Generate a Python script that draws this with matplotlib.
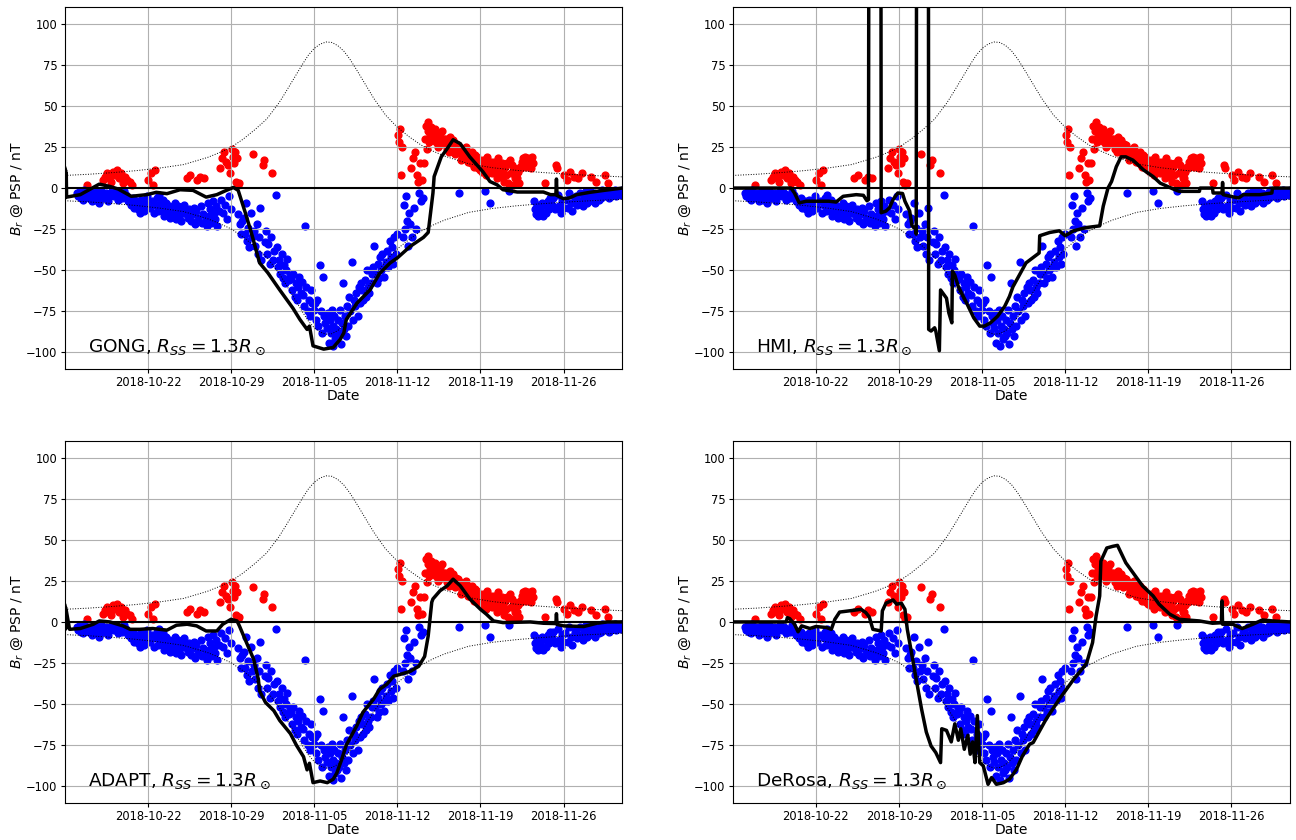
import datetime
import matplotlib
matplotlib.use('Agg')
import matplotlib.pyplot as plt
import matplotlib.dates as mdates
import numpy as np

# time axis: days since 2018-10-15 00:00
t_start = datetime.datetime(2018, 10, 15)
t_first = 0.02
t_span = 46.93

# PSP measured Br (nT), one list per day starting at day 1
psp_first_day = 1
psp_br_by_day = [
    [-3, -5, -2, -6, -4, -7, -1, -5, 2, -4],
    [-6, -3, -8, -4, -2, -7, -5, -3, -9, -6],
    [-2, -4, 5, -6, 7, -3, 9, -8, 6, -5, 4, -2],
    [10, -5, 8, -3, 11, -7, 6, -4, 9, -6, 3, -2],
    [7, -4, 5, -8, 4, -10, 2, -6, -12, -9],
    [-8, -13, -10, -15, -7, -12, -14, -9, -11, -5],
    [5, -12, 9, -8, 2, -15, 11, -10, -6, -14, -4],
    [-10, -14, -7, -17, -12, -9, -15, -11, -18, -13],
    [-12, -16, -9, -19, -14, -11, -17, -20, -13, -15],
    [-10, -15, 6, -18, -13, 8, -20, -16, -12, -22],
    [-14, 5, -18, 7, -11, -21, -16, 6, -19, -23],
    [-9, -17, -13, -21, -8, -15, -19, -11, -23, -14],
    [12, -7, 18, -15, 22, -10, 16, -19, 14, -5, 9, -13],
    [24, 19, 15, 22, 4, 18, 2, -16, 3, -22, -28, -20],
    [-18, -28, -9, -32, -24, -36, -15, -30, 21, -26],
    [-35, -22, -40, -30, -12, -44, 14, 17, -33, -26],
    [-40, -34, -46, -30, 9, -44, -38, -4, -36, -48],
    [-44, -52, -40, -55, -47, -58, -50, -43, -56, -53],
    [-55, -62, -52, -66, -58, -68, -60, -54, -64, -57],
    [-65, -72, -23, -60, -75, -68, -78, -62, -70, -74],
    [-70, -80, -68, -84, -47, -75, -88, -54, -78, -82],
    [-85, -76, -94, -80, -88, -74, -96, -84, -78, -92, -86, -90],
    [-80, -88, -74, -95, -82, -58, -86, -78, -90, -72, -84, -66],
    [-75, -45, -80, -68, -72, -64, -78, -60, -70, -58],
    [-62, -68, -56, -66, -50, -60, -64, -58, -52, -48],
    [-35, -52, -58, -46, -55, -42, -50, -40, -54, -48],
    [-45, -38, -48, -32, -42, -36, -46, -30, -40, -28],
    [32, 28, 36, 8, 25, -30, -10, -25, -5, -20, -35, -15],
    [-22, 12, -30, 18, -12, 22, -25, 8, 4, -3, 15, -8],
    [5, -6, 15, 30, 38, 24, 35, 40, 28, 32, 37, 36],
    [34, 30, 36, 28, 32, 25, 31, 33, 27, 35, 29, 30],
    [27, 30, 24, 28, 22, 31, 26, 23, 29, 25, 21, 27],
    [22, 26, -3, 24, 17, 19, 21, 23, 18, 25, 20, 16],
    [18, 21, 15, 22, 17, 13, 20, 16, 19, 12, 14, 11],
    [14, 10, 17, 12, -2, 8, 19, 15, 11, -9, 16, 9],
    [12, 16, 9, 14, 6, 18, 11, 13, 7, 15, 10, 4],
    [13, 8, 15, 3, -2, 17, 9, 14, 2, 12, 6, 10],
    [6, 10, 3, 13, 12, 16, 14, 18, 15, 19, 13, 17],
    [18, 14, 16, 12, 19, 15, -8, -13, -16, -10, -17, -12],
    [-14, -9, -17, -11, 3, -15, -8, -13, -6, -10],
    [-10, -6, -13, 14, 12, -4, -11, -15, -8, -12],
    [8, -7, 5, -12, -3, 10, -9, -14, 7, -6],
    [-5, -10, 6, -3, -8, 9, -11, -6, -2, -9],
    [-4, -8, -2, 7, -6, -3, -9, 4, -5, -7],
    [-3, -6, -1, -5, 8, -2, -4, 3, -6, -3],
    [-2, -4, -1, -5, -3, -2, -4, -1],
]

# |B| envelope (dotted), day vs nT
env_day = [0, 2, 4, 6, 8, 10, 12, 13, 14, 15, 16, 17, 18, 18.5, 19, 19.5, 20, 20.5,
           21, 21.5, 22, 22.5, 23, 23.5, 24, 24.5, 25, 25.5, 26, 27, 28, 29, 30, 31,
           32, 34, 36, 38, 40, 42, 44, 47]
env_br = [7.7, 8.4, 9.4, 10.6, 12.2, 14.3, 18.6, 21.5, 24.8, 29.7, 35.5, 42, 51.5, 57.2,
          63.2, 69.2, 75.2, 80.8, 85, 87.6, 88.9, 88.6, 86.6, 83.3, 78.5, 72.8, 66.8,
          60.8, 54.8, 44.5, 37, 31.2, 26.2, 22.5, 19.4, 14.8, 12.4, 10.8, 9.6, 8.6, 7.8, 6.8]

# PFSS model Br at PSP, (day, nT)
gong = [(0, 12), (0.03, -6), (0.06, 11), (0.09, -5), (0.12, 9), (0.15, -5.5), (1.3, -4),
        (2.9, 2.4), (3.8, 1), (4.5, -0.6), (5.6, -5), (6.9, -4), (7.7, -2.6), (8.6, -3.4),
        (9.7, -1), (10.8, -1.4), (11.9, -5.5), (12.8, -4), (13.6, -1.4), (14.2, 0.4),
        (14.6, -1.4), (15.2, -15), (15.7, -27), (16.4, -45.5), (17.1, -51.6), (18.1, -62),
        (19.2, -73), (19.8, -80), (20.4, -86), (20.6, -84), (20.9, -96), (21.8, -98),
        (22.6, -97), (23.2, -92), (23.5, -88), (23.7, -80), (24.6, -70), (25.7, -62),
        (26.5, -52), (27.4, -45.5), (28.0, -42.5), (29.1, -35.4), (30.2, -30), (30.6, -27),
        (30.8, -15), (31.0, -3), (31.1, 7), (31.3, 11), (31.7, 19), (32.2, 24), (32.7, 29.4),
        (33.3, 27), (34.1, 19), (35.2, 10), (35.8, 4), (36.4, 2), (36.9, -1), (38.1, -2.4),
        (40.3, -2.4), (40.9, -4), (41.35, -4), (41.4, 5.5), (41.45, -4.5), (42.0, -6.5),
        (42.5, -6), (43.1, -4), (44.2, -2.6), (45.4, -1.4), (46.93, 0)]

hmi = [(0, 0), (4.9, 0), (5.2, -3), (5.6, -9), (6.2, -8), (7.0, -8), (8.1, -8), (8.7, -8.5),
       (9.3, -5), (10.4, -4), (11.0, -4.4), (11.3, -7.7), (11.43, -7), (11.46, 150),
       (12.48, 150), (12.5, -15), (12.9, -14), (13.2, -12), (13.5, -7), (13.9, -3),
       (14.3, -3.3), (14.5, -8), (14.9, -14), (15.1, -23), (15.4, -25), (15.45, -28),
       (15.48, 150), (16.48, 150), (16.5, -86), (16.7, -87), (17.0, -85), (17.1, -87),
       (17.4, -99), (17.5, -62), (18.0, -67), (18.2, -76), (18.45, -82), (18.5, -50.6),
       (18.7, -53), (19.0, -60), (19.7, -70), (20.3, -79), (20.8, -84), (21.2, -84),
       (21.7, -82), (22.3, -78), (22.9, -72), (23.3, -66), (23.6, -60), (24.7, -45.5),
       (25.8, -39.5), (25.85, -29), (26.7, -27), (27.5, -26), (28.0, -29), (28.7, -26),
       (29.8, -24), (30.9, -23), (31.2, -11), (31.6, 0), (31.9, 4), (32.3, 13), (32.7, 19),
       (33.1, 19), (33.7, 17), (34.6, 11), (35.4, 7), (36.0, 3), (37.1, -0.6), (37.6, -2),
       (39.3, -2), (39.35, 0), (40.4, 0), (40.45, -3), (41.2, -3), (41.25, 3.4), (41.3, -4),
       (41.9, -5), (42.6, -6), (43.0, -4), (44.4, -4), (45.4, -3), (45.45, 0), (46.93, 0)]

adapt = [(0, 10), (0.03, -4.5), (0.06, 9), (0.09, -4), (0.12, 7), (0.4, -4.5), (1.3, -4),
         (2.4, -1.4), (2.9, 0.6), (3.8, 0), (4.9, -2.4), (5.5, -4.5), (6.3, -4.5), (7.4, -4),
         (8.6, -5), (9.4, -2), (10.3, -1.4), (11.1, -2.4), (11.9, -5.5), (12.8, -5.5),
         (13.3, -1.4), (14.0, 1.6), (14.5, 0.6), (14.7, -2.4), (15.3, -12.6), (15.9, -22.7),
         (16.3, -35), (16.4, -42), (16.9, -49), (17.6, -54), (18.1, -60), (19.0, -68),
         (19.5, -75), (20.1, -82), (20.4, -90), (20.6, -86), (20.9, -97.8), (21.5, -96.8),
         (22.1, -97.8), (22.6, -95.7), (22.9, -92), (23.3, -84), (23.7, -75), (24.6, -63),
         (25.1, -55), (26.0, -47), (26.5, -41), (27.1, -38), (27.7, -33), (28.2, -32),
         (29.1, -30), (29.8, -27), (30.3, -21), (30.6, -8.5), (30.9, 12), (31.0, 14),
         (31.6, 19), (32.2, 22), (32.7, 26), (33.3, 22), (34.1, 14), (35.0, 7.7), (35.5, 4.7),
         (36.1, 0.6), (36.9, -0.4), (39.2, 0), (40.3, -0.8), (41.35, -1), (41.4, 5),
         (41.45, -1.5), (42.0, -2.4), (43.7, -2.8), (44.8, -0.8), (45.7, 0), (46.93, 0)]

derosa = [(0, 0), (4.5, 0), (4.6, 2.6), (4.8, 2), (5.2, -1.4), (5.5, -6), (5.8, -2.4),
          (6.5, -4), (7.0, -2.8), (7.9, -3.4), (8.3, -4.5), (8.6, 1.6), (9.0, 6), (10.1, 7),
          (10.8, 7.7), (11.2, 5.7), (11.5, 3), (11.8, -4.5), (12.5, -5.5), (12.6, 6.7),
          (12.9, 11.4), (13.5, 13.4), (13.8, 10.8), (14.2, 11.4), (14.5, 7.7), (14.7, -4.5),
          (15.0, -16.6), (15.3, -28.8), (15.6, -41), (15.9, -53), (16.3, -67), (16.7, -75.5),
          (17.1, -79.5), (17.5, -85.6), (17.6, -65), (18.0, -66), (18.4, -73), (18.7, -62),
          (19.0, -72), (19.2, -65), (19.5, -77.5), (19.8, -69), (20.0, -80.5), (20.2, -73),
          (20.4, -85.6), (20.6, -57), (20.8, -85.6), (21.1, -87.6), (21.5, -98.8),
          (21.8, -94.7), (22.2, -98.8), (22.8, -97.8), (23.3, -95.7), (23.9, -89.7),
          (24.4, -81.5), (25.0, -74.4), (25.3, -73.4), (26.4, -59), (27.5, -47), (28.7, -35),
          (29.5, -28), (29.8, -25), (30.3, -12.6), (30.6, 3.7), (30.9, 15.8), (31.0, 37),
          (31.5, 45), (32.0, 46), (32.4, 46.6), (33.1, 36), (33.7, 30), (34.5, 22),
          (35.4, 15.8), (35.9, 10.8), (36.8, 4.7), (37.6, 1.6), (39.3, 0.6), (40.4, -0.8),
          (41.15, -0.5), (41.2, 12.8), (41.25, -1.4), (42.1, -1.4), (42.9, -4), (43.8, -1.4),
          (44.6, 1.2), (45.5, 0.6), (46.93, 0)]

models = [('GONG', gong), ('HMI', hmi), ('ADAPT', adapt), ('DeRosa', derosa)]


def to_num(days):
    return mdates.date2num(t_start) + np.asarray(days, dtype=float)


# flatten the measured points
psp_day = []
psp_br = []
for i, vals in enumerate(psp_br_by_day):
    n = len(vals)
    for j, v in enumerate(vals):
        psp_day.append(psp_first_day + i + (j + 0.5) / n)
        psp_br.append(v)
psp_day = np.array(psp_day)
psp_br = np.array(psp_br)

fig, axs = plt.subplots(2, 2, figsize=(12.96, 8.4), dpi=100)
fig.subplots_adjust(left=0.0502, right=0.9954, top=0.9913, bottom=0.0444,
                    wspace=0.199, hspace=0.2)

for ax, (name, model) in zip(axs.flat, models):
    pos = psp_br > 0
    ax.scatter(to_num(psp_day[pos]), psp_br[pos], s=24, c='r')
    ax.scatter(to_num(psp_day[~pos]), psp_br[~pos], s=24, c='b')
    env = np.array(env_br)
    ax.plot(to_num(env_day), env, color='k', ls=':', lw=0.7)
    ax.plot(to_num(env_day), -env, color='k', ls=':', lw=0.7)
    ax.axhline(0, color='k', lw=1.5)
    md, mb = np.array(model).T
    ax.plot(to_num(md), mb, color='k', lw=2.5)

    ax.grid(True)
    ax.set_ylim(-110, 110)
    ax.set_xlim(to_num(t_first), to_num(t_span))
    ax.xaxis.set_major_locator(mdates.WeekdayLocator(byweekday=mdates.MO))
    ax.xaxis.set_major_formatter(mdates.DateFormatter('%Y-%m-%d'))
    ax.tick_params(labelsize=8.3, length=3, pad=2.5)
    ax.set_xlabel('Date', fontsize=10, labelpad=0)
    ax.set_ylabel(r'$B_r$ @ PSP / nT', fontsize=10, labelpad=1)
    ax.text(0.042, 0.046, name + r', $R_{SS} = 1.3R_\odot$', transform=ax.transAxes,
            fontsize=13.3, va='baseline')

fig.savefig('out.png', dpi=100)
